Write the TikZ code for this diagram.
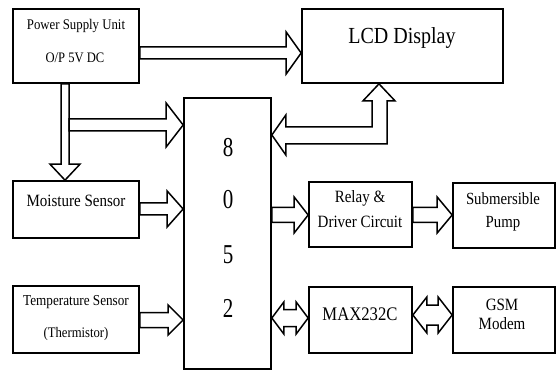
\documentclass[tikz,border=0pt]{standalone}
\usepackage{fontspec}
\setmainfont{Liberation Serif}
\usetikzlibrary{calc}
% right-pointing block arrow: start, tip, shaft half, head half, head length
\newcommand\rblk[5]{\draw[blk] let \p1=(#1),\p2=(#2) in
  (\x1,\y1+#3pt) -- (\x2-#5pt,\y1+#3pt) -- (\x2-#5pt,\y1+#4pt) -- (\x2,\y1)
  -- (\x2-#5pt,\y1-#4pt) -- (\x2-#5pt,\y1-#3pt) -- (\x1,\y1-#3pt) -- cycle;}
% double-headed horizontal block arrow: left tip, right tip, shaft half, head half, head length
\newcommand\dblk[5]{\draw[blk] let \p1=(#1),\p2=(#2) in
  (\x1,\y1) -- (\x1+#5pt,\y1+#4pt) -- (\x1+#5pt,\y1+#3pt) -- (\x2-#5pt,\y1+#3pt)
  -- (\x2-#5pt,\y1+#4pt) -- (\x2,\y1) -- (\x2-#5pt,\y1-#4pt) -- (\x2-#5pt,\y1-#3pt)
  -- (\x1+#5pt,\y1-#3pt) -- (\x1+#5pt,\y1-#4pt) -- cycle;}
% downward block arrow: start, tip, shaft half, head half, head length
\newcommand\vblk[5]{\draw[blk] let \p1=(#1),\p2=(#2) in
  (\x1+#3pt,\y1) -- (\x1+#3pt,\y2+#5pt) -- (\x1+#4pt,\y2+#5pt) -- (\x1,\y2)
  -- (\x1-#4pt,\y2+#5pt) -- (\x1-#3pt,\y2+#5pt) -- (\x1-#3pt,\y1) -- cycle;}
\begin{document}
\begin{tikzpicture}[x=1pt,y=-1pt,
  box/.style={draw, line width=1.7pt, inner sep=0pt},
  blk/.style={draw, line width=1.5pt, line join=miter},
  txt/.style={anchor=base, inner sep=0pt, yscale=1.15},
  dig/.style={anchor=base, inner sep=0pt, yscale=1.3, font=\fontsize{21}{24}\selectfont}]
\useasboundingbox (0,0) rectangle (556,371);
% boxes
\node[box, minimum width=126pt, minimum height=74pt]  (psu)   at (76,46) {};
\node[box, minimum width=201pt, minimum height=74pt]  (lcd)   at (402.5,46) {};
\node[box, minimum width=87pt,  minimum height=271pt] (mcu)   at (227.5,233.5) {};
\node[box, minimum width=126pt, minimum height=57pt]  (moist) at (76,209.5) {};
\node[box, minimum width=126pt, minimum height=67pt]  (temp)  at (76,319.5) {};
\node[box, minimum width=103pt, minimum height=65pt]  (relay) at (360.5,214.5) {};
\node[box, minimum width=102pt, minimum height=65pt]  (pump)  at (504,215.5) {};
\node[box, minimum width=103pt, minimum height=66pt]  (max)   at (360.5,320) {};
\node[box, minimum width=102pt, minimum height=66pt]  (gsm)   at (504,320) {};
% texts
\node[txt, font=\fontsize{12.8}{14}\selectfont] (tpsu1) at (76,30) {Power Supply Unit};
\node[txt, font=\fontsize{12.6}{14}\selectfont] (tpsu2) at (75,63) {O/P 5V DC};
\node[txt, font=\fontsize{20}{24}\selectfont] (tlcd) at (402,44) {LCD Display};
\node[dig] (d8) at (228,157) {8};
\node[dig] (d0) at (228,208) {0};
\node[dig] (d5) at (228,263) {5};
\node[dig] (d2) at (228,317) {2};
\node[txt, font=\fontsize{15}{17}\selectfont] (tmoist) at (76,207) {Moisture Sensor};
\node[txt, font=\fontsize{13.2}{15}\selectfont] (ttemp1) at (76,305) {Temperature Sensor};
\node[txt, font=\fontsize{12.7}{15}\selectfont] (ttemp2) at (76,337) {(Thermistor)};
\node[txt, font=\fontsize{15}{17}\selectfont] (trel1) at (360,203) {Relay \&};
\node[txt, font=\fontsize{15}{17}\selectfont] (trel2) at (360,227) {Driver Circuit};
\node[txt, font=\fontsize{14.8}{17}\selectfont] (tpump1) at (503,205) {Submersible};
\node[txt, font=\fontsize{14.8}{17}\selectfont] (tpump2) at (503,227) {Pump};
\node[txt, font=\fontsize{16.7}{19}\selectfont] (tmax) at (360,320) {MAX232C};
\node[txt, font=\fontsize{15}{17}\selectfont] (tgsm1) at (502,310) {GSM};
\node[txt, font=\fontsize{15}{17}\selectfont] (tgsm2) at (502,329) {Modem};
% connector end points
\coordinate (a1s) at (psu.east |- 0,53);
\coordinate (a1t) at (lcd.west |- 0,53);
\coordinate (a2s) at (65,0 |- psu.south);
\coordinate (a2t) at (65,0 |- moist.north);
\coordinate (a3s) at (69,125);
\coordinate (a3t) at (mcu.west |- 0,125);
\coordinate (a4s) at (moist.east |- 0,209);
\coordinate (a4t) at (mcu.west |- 0,209);
\coordinate (a5s) at (temp.east |- 0,320);
\coordinate (a5t) at (mcu.west |- 0,320);
\coordinate (a6s) at (mcu.east |- 0,215);
\coordinate (a6t) at (relay.west |- 0,215);
\coordinate (a7s) at (relay.east |- 0,215);
\coordinate (a7t) at (pump.west |- 0,215);
\coordinate (a8s) at (mcu.east |- 0,318);
\coordinate (a8t) at (max.west |- 0,318);
\coordinate (a9s) at (max.east |- 0,315);
\coordinate (a9t) at (gsm.west |- 0,315);
\coordinate (lt) at (mcu.east |- 0,135);
\coordinate (tt) at (379,0 |- lcd.south);
% arrows
\rblk{a1s}{a1t}{6}{21}{15}
\vblk{a2s}{a2t}{4}{15}{16}
\rblk{a3s}{a3t}{6}{22}{17}
\rblk{a4s}{a4t}{6}{18}{16}
\rblk{a5s}{a5t}{7.5}{15}{15}
\rblk{a6s}{a6t}{7.5}{18}{14}
\rblk{a7s}{a7t}{7.5}{18}{15}
\dblk{a8s}{a8t}{8.5}{16}{12}
\dblk{a9s}{a9t}{10}{18}{14}
\draw[blk] let \p1=(lt), \p2=(tt) in
  (\x1,\y1) -- (\x1+14pt,\y1+20pt) -- (\x1+14pt,\y1+8pt) -- (\x2-7pt,\y1+8pt)
  -- (\x2-7pt,\y2-17pt) -- (\x2-16pt,\y2-17pt) -- (\x2,\y2) -- (\x2+16pt,\y2-17pt)
  -- (\x2+8pt,\y2-17pt) -- (\x2+8pt,\y1-9pt) -- (\x1+14pt,\y1-9pt) -- (\x1+14pt,\y1-20pt) -- cycle;
\end{tikzpicture}
\end{document}
